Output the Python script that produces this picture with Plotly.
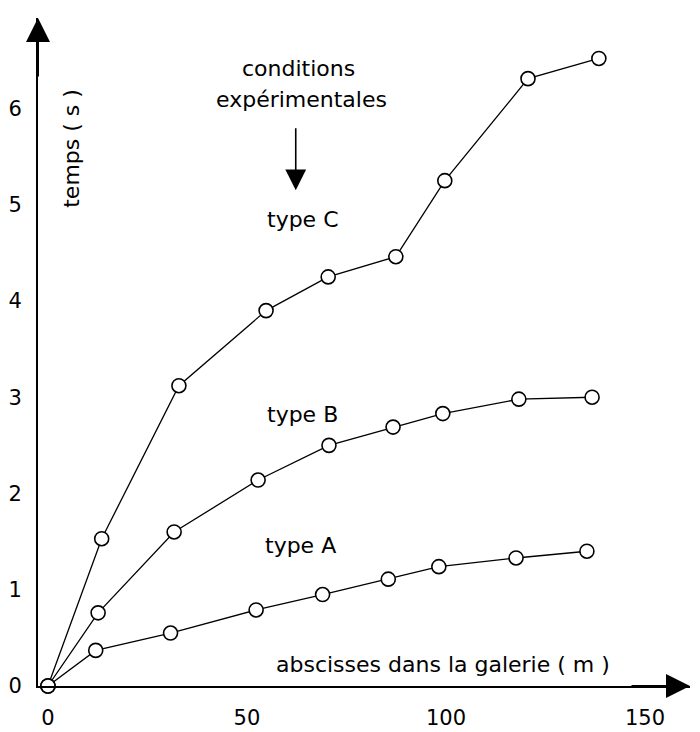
import plotly.graph_objects as go

# Data (x: abscisses dans la galerie (m), y: temps (s))
xA = [0, 12.0, 30.8, 52.3, 69.0, 85.5, 98.2, 117.6, 135.4]
yA = [0, 0.37, 0.55, 0.79, 0.95, 1.11, 1.24, 1.33, 1.40]

xB = [0, 12.6, 31.7, 52.8, 70.6, 86.7, 99.2, 118.3, 136.7]
yB = [0, 0.76, 1.60, 2.14, 2.50, 2.69, 2.83, 2.98, 3.00]

xC = [0, 13.5, 32.9, 54.8, 70.4, 87.4, 99.7, 120.6, 138.4]
yC = [0, 1.53, 3.12, 3.90, 4.25, 4.46, 5.25, 6.31, 6.52]

x_ticks = [0, 50, 100, 150]
y_ticks = [0, 1, 2, 3, 4, 5, 6]

FONT = "DejaVu Sans"
TXT = dict(size=22, family=FONT, color="black")

fig = go.Figure()
for xs, ys, name in [(xA, yA, "type A"), (xB, yB, "type B"), (xC, yC, "type C")]:
    fig.add_trace(go.Scatter(
        x=xs, y=ys, mode="lines+markers", name=name,
        line=dict(color="black", width=1.3),
        marker=dict(symbol="circle", size=14, color="white",
                    line=dict(color="black", width=1.6)),
        showlegend=False, cliponaxis=False,
    ))

annotations = [
    dict(text="type C", x=64, y=4.85, xref="x", yref="y", showarrow=False, font=TXT),
    dict(text="type B", x=64, y=2.82, xref="x", yref="y", showarrow=False, font=TXT),
    dict(text="type A", x=63.5, y=1.46, xref="x", yref="y", showarrow=False, font=TXT),
    dict(text="conditions", x=63, y=6.42, xref="x", yref="y", showarrow=False, font=TXT),
    dict(text="expérimentales", x=63.75, y=6.09, xref="x", yref="y", showarrow=False, font=TXT),
    # arrow pointing down below the "conditions expérimentales" label
    dict(x=62.25, y=5.15, ax=62.25, ay=5.81, xref="x", yref="y", axref="x", ayref="y",
         showarrow=True, arrowhead=2, arrowsize=2.6, arrowwidth=1.6,
         arrowcolor="black", text=""),
    dict(text="abscisses dans la galerie ( m )", x=99.25, y=0.22, xref="x", yref="y",
         showarrow=False, font=TXT),
    dict(text="temps ( s )", x=6, y=5.59, xref="x", yref="y", textangle=-90,
         showarrow=False, font=TXT),
    # axis arrow heads
    dict(x=0, y=1, xref="paper", yref="paper", ax=0, ay=60, showarrow=True,
         arrowhead=2, arrowsize=2.4, arrowwidth=2, arrowcolor="black", text=""),
    dict(x=1, y=0, xref="paper", yref="paper", ax=-60, ay=0, showarrow=True,
         arrowhead=2, arrowsize=2.4, arrowwidth=2, arrowcolor="black", text=""),
]

fig.update_layout(
    width=700, height=732,
    margin=dict(l=38, r=10, t=18, b=46),
    paper_bgcolor="white", plot_bgcolor="white",
    annotations=annotations,
    xaxis=dict(range=[-2.5, 161.3], tickvals=x_ticks, showgrid=False, zeroline=False,
               showline=True, linecolor="black", linewidth=2, ticks="",
               ticklabelstandoff=12, automargin=False,
               tickfont=dict(size=21, family=FONT, color="black")),
    yaxis=dict(range=[0, 6.94], tickvals=y_ticks, showgrid=False, zeroline=False,
               showline=True, linecolor="black", linewidth=2, ticks="",
               ticklabelstandoff=10, automargin=False,
               tickfont=dict(size=21, family=FONT, color="black")),
)

fig.write_html(
    "out.html",
    config={"displayModeBar": False},
    post_script="document.body.style.margin='0';document.body.style.overflow='hidden';",
)
